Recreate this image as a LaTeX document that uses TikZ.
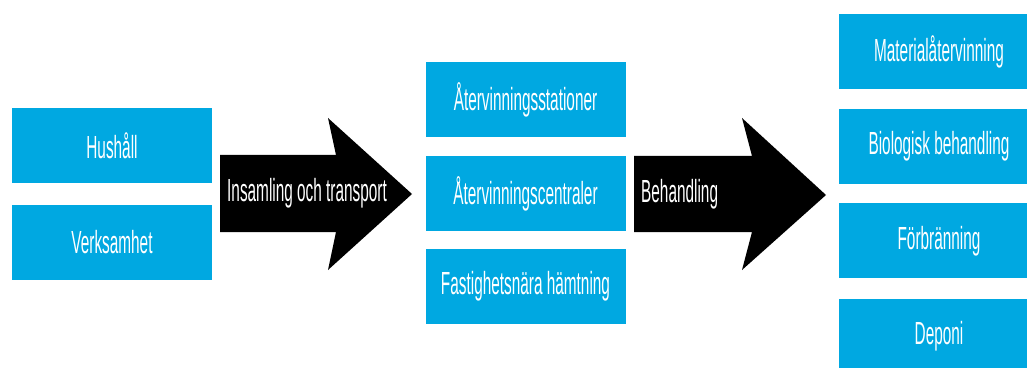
\documentclass[tikz,border=0pt]{standalone}
\usepackage{fontspec}
\setmainfont{Liberation Sans}[FakeStretch=0.48]
\usetikzlibrary{positioning}
\definecolor{boxblue}{HTML}{00A8E1}

\begin{document}
\begin{tikzpicture}[x=1pt, y=1pt,
  box/.style={fill=boxblue, text=white, minimum width=200pt,
              minimum height=75pt, inner sep=0pt, font=\fontsize{32}{36}\selectfont},
  lbl/.style={text=white, anchor=west, inner sep=7pt, font=\fontsize{32}{36}\selectfont},
  bigarrow/.style={fill=black}]
  \useasboundingbox (0,0) rectangle (1027,367);
  \clip (0,0) rectangle (1027,367);
  % sources
  \node[box] (hush) at (112,221) {Hushåll};
  \node[box, below=21pt of hush] (verk) {Verksamhet};
  % collection
  \node[box] (avs) at (525.5,267.5) {Återvinningsstationer};
  \node[box, below=19pt of avs] (avc) {Återvinningscentraler};
  \node[box, below=17pt of avc] (fnh) {Fastighetsnära hämtning};
  % treatment
  \node[box] (mat) at (939,315) {Materialåtervinning};
  \node[box, below=19pt of mat] (bio) {Biologisk behandling};
  \node[box, below=19pt of bio] (forb) {Förbränning};
  \node[box, below=20pt of forb] (dep) {Deponi};
  % block arrows
  \fill[bigarrow] (220,212) -- (336,212) -- (328,249) -- (412,173)
    -- (328,97) -- (336,135) -- (220,135) -- cycle;
  \fill[bigarrow] (634,211) -- (752,211) -- (742,249) -- (826,172)
    -- (742,97) -- (752,135) -- (634,135) -- cycle;
  \node[lbl] (ins) at (220,173.5) {Insamling och transport};
  \node[lbl] (beh) at (634,173) {Behandling};
\end{tikzpicture}
\end{document}
